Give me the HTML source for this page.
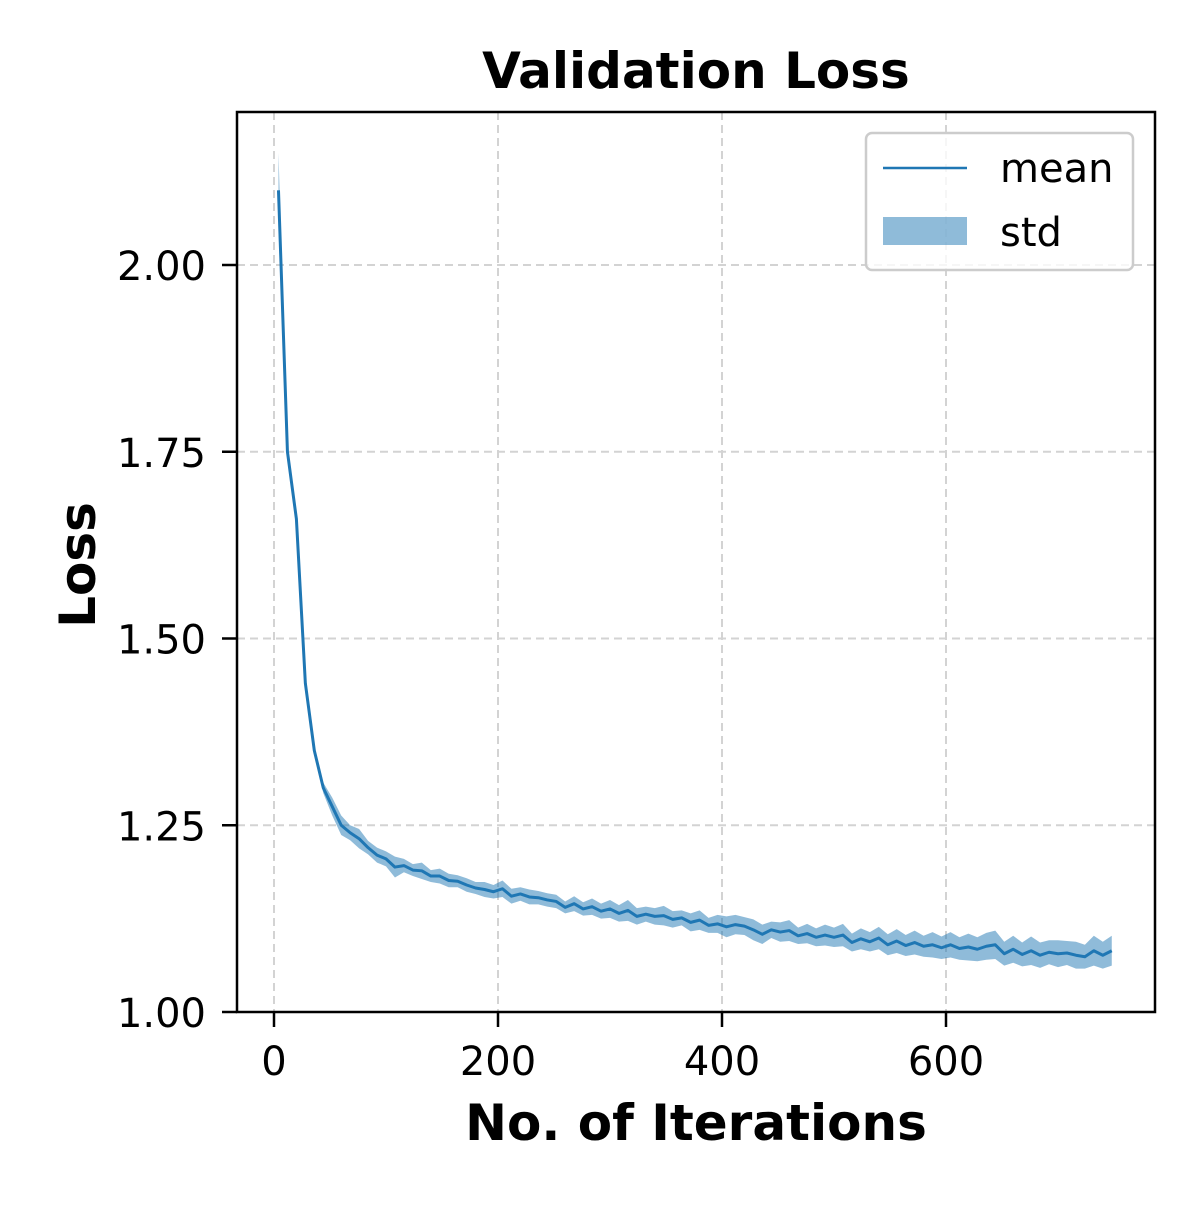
<!DOCTYPE html>
<html><head><meta charset="utf-8"><style>
body{margin:0;background:#fff;}
svg text{font-family:"DejaVu Sans","Liberation Sans",sans-serif;}
</style></head><body>
<svg id="chart" width="1200" height="1200" viewBox="0 0 1200 1200" xmlns="http://www.w3.org/2000/svg">
<rect width="1200" height="1200" fill="#fff"/>
<g id="grid"></g>
<g id="band"></g>
<g id="line"></g>
<rect x="237" y="112" width="918" height="900" fill="none" stroke="#000" stroke-width="2.5"/>
<g id="ticks"></g>
<text x="696" y="88" font-size="50" font-weight="bold" text-anchor="middle">Validation Loss</text>
<text x="696" y="1140" font-size="50" font-weight="bold" text-anchor="middle">No. of Iterations</text>
<text x="0" y="0" font-size="50" font-weight="bold" text-anchor="middle" transform="translate(95,565) rotate(-90)">Loss</text>
<g>
<rect x="866" y="133" width="267" height="137" rx="6" fill="#fff" fill-opacity="0.8" stroke="#ccc" stroke-width="2.5"/>
<line x1="883" y1="168" x2="967" y2="168" stroke="#1f77b4" stroke-width="2.5"/>
<text x="1000" y="182" font-size="40">mean</text>
<rect x="883" y="217" width="84" height="28" fill="#1f77b4" fill-opacity="0.5"/>
<text x="1000" y="246" font-size="40">std</text>
</g>
</svg>
<script>
const iters=[4,12,20,28,36,44,52,60,68,76,84,92,100,108,116,124,132,140,148,156,164,172,180,188,196,204,212,220,228,236,244,252,260,268,276,284,292,300,308,316,324,332,340,348,356,364,372,380,388,396,404,412,420,428,436,444,452,460,468,476,484,492,500,508,516,524,532,540,548,556,564,572,580,588,596,604,612,620,628,636,644,652,660,668,676,684,692,700,708,716,724,732,740,748];
const meanVals=[2.10,1.75,1.66,1.44,1.35,1.30,1.275,1.250,1.240,1.232,1.220,1.210,1.205,1.194,1.196,1.190,1.189,1.182,1.182,1.176,1.175,1.170,1.166,1.164,1.161,1.165,1.155,1.158,1.154,1.153,1.150,1.148,1.140,1.145,1.138,1.141,1.135,1.138,1.132,1.136,1.128,1.131,1.128,1.129,1.124,1.126,1.120,1.123,1.116,1.118,1.114,1.117,1.115,1.110,1.104,1.110,1.107,1.109,1.102,1.105,1.100,1.103,1.100,1.103,1.093,1.098,1.094,1.099,1.090,1.095,1.089,1.093,1.088,1.090,1.086,1.090,1.085,1.087,1.084,1.088,1.090,1.078,1.084,1.077,1.082,1.076,1.080,1.078,1.079,1.076,1.074,1.082,1.076,1.082];
const stdVals=[0.05,0.01,0.008,0.006,0.006,0.007,0.012,0.013,0.010,0.013,0.009,0.010,0.010,0.014,0.009,0.008,0.011,0.008,0.010,0.009,0.008,0.009,0.008,0.010,0.009,0.011,0.010,0.009,0.010,0.009,0.009,0.009,0.008,0.010,0.009,0.011,0.010,0.012,0.011,0.014,0.011,0.010,0.011,0.013,0.011,0.010,0.012,0.013,0.010,0.012,0.014,0.013,0.012,0.014,0.013,0.011,0.013,0.014,0.011,0.013,0.012,0.014,0.013,0.015,0.012,0.014,0.013,0.015,0.014,0.016,0.014,0.016,0.014,0.017,0.015,0.017,0.015,0.018,0.016,0.018,0.019,0.016,0.018,0.016,0.019,0.017,0.016,0.018,0.016,0.018,0.016,0.020,0.018,0.020];
const xTicks=[0,200,400,600];
const yTicks=[1.00,1.25,1.50,1.75,2.00];
const xs=v=>274+(v-0)*1.12;
const ys=v=>1012-(v-1.0)*747;
const NS='http://www.w3.org/2000/svg';
function mk(tag,attrs,parent){const e=document.createElementNS(NS,tag);for(const k in attrs)e.setAttribute(k,attrs[k]);document.getElementById(parent).appendChild(e);return e;}
xTicks.forEach(t=>{
  const g=mk('line',{x1:xs(t),x2:xs(t),y1:112,y2:1012,stroke:'#d3d3d3','stroke-width':2,'stroke-dasharray':'8,5'},'grid');
  
  
  const tk=mk('line',{x1:xs(t),x2:xs(t),y1:1012,y2:1027,stroke:'#000','stroke-width':2.5},'ticks');
  
  
  const tx=mk('text',{x:xs(t),y:1075,'font-size':40,'text-anchor':'middle'},'ticks');
  tx.textContent=t;
  
  
});
yTicks.forEach(t=>{
  const g=mk('line',{x1:237,x2:1155,y1:ys(t),y2:ys(t),stroke:'#d3d3d3','stroke-width':2,'stroke-dasharray':'8,5'},'grid');
  
  
  const tk=mk('line',{x1:222,x2:237,y1:ys(t),y2:ys(t),stroke:'#000','stroke-width':2.5},'ticks');
  
  
  const tx=mk('text',{x:206,y:ys(t)+15,'font-size':40,'text-anchor':'end'},'ticks');
  tx.textContent=t.toFixed(2);
  
  
});
let up=iters.map((v,i)=>xs(v)+','+ys(meanVals[i]+stdVals[i]));
let dn=iters.map((v,i)=>xs(v)+','+ys(meanVals[i]-stdVals[i])).reverse();
const band=mk('polygon',{points:up.concat(dn).join(' '),fill:'#1f77b4','fill-opacity':0.5},'band');


const ln=mk('polyline',{points:iters.map((v,i)=>xs(v)+','+ys(meanVals[i])).join(' '),fill:'none',stroke:'#1f77b4','stroke-width':3,'stroke-linejoin':'round'},'line');


</script>
</body></html>
